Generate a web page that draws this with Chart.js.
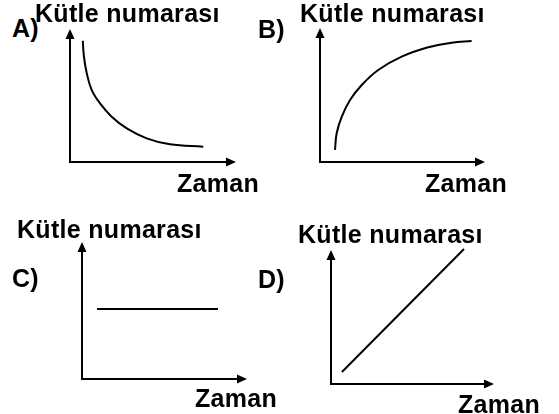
<!DOCTYPE html>
<html>
<head>
<meta charset="utf-8">
<script src="https://cdn.jsdelivr.net/npm/chart.js@4.4.1/dist/chart.umd.min.js"></script>
<style>
  body { margin: 0; background: #fff; }
  #wrap { position: relative; width: 559px; height: 414px; overflow: hidden; }
  canvas { position: absolute; }
  .lbl { position: absolute; font-family: "Liberation Sans", Arial, sans-serif; font-weight: bold;
         font-size: 25px; line-height: 25px; letter-spacing: 0.3px; color: #000; white-space: nowrap; }
</style>
</head>
<body>
<div id="wrap">
  <canvas id="chartA" width="186" height="153" style="left:60px;top:19px"></canvas>
  <canvas id="chartB" width="185" height="154" style="left:310px;top:18px"></canvas>
  <canvas id="chartC" width="185" height="157" style="left:72px;top:232px"></canvas>
  <canvas id="chartD" width="183" height="154" style="left:321px;top:240px"></canvas>

  <div class="lbl" style="left:12px;top:16px">A)</div>
  <div class="lbl" style="left:35px;top:1px">Kütle numarası</div>
  <div class="lbl" style="left:177px;top:171px">Zaman</div>

  <div class="lbl" style="left:258px;top:17px">B)</div>
  <div class="lbl" style="left:300px;top:1px">Kütle numarası</div>
  <div class="lbl" style="left:425px;top:171px">Zaman</div>

  <div class="lbl" style="left:17px;top:217px">Kütle numarası</div>
  <div class="lbl" style="left:12px;top:266px">C)</div>
  <div class="lbl" style="left:195px;top:386px">Zaman</div>

  <div class="lbl" style="left:298px;top:222px">Kütle numarası</div>
  <div class="lbl" style="left:258px;top:267px">D)</div>
  <div class="lbl" style="left:458px;top:392px">Zaman</div>
</div>
<script>
// values, axes run 0..10 in both directions
const A_X = [0.77, 0.84, 1.01, 1.31, 1.81, 2.51, 3.42, 4.62, 6.02, 8.03];
const A_Y = [9.12, 7.92, 6.67, 5.41, 4.41, 3.41, 2.53, 1.78, 1.33, 1.15];

const B_X = [0.91, 1.01, 1.32, 1.82, 2.53, 3.53, 4.95, 6.56, 7.98, 9.19];
const B_Y = [0.90, 2.14, 3.38, 4.63, 5.75, 6.87, 7.86, 8.56, 8.90, 9.03];

const C_X = [0.91, 8.24];
const C_Y = [5.11, 5.11];

const D_X = [0.67, 8.16];
const D_Y = [0.90, 10.07];

const AXIS_MIN = 0;
const AXIS_MAX = 10;

// draws the two axis lines with arrow heads on the chart area edges
const arrowAxes = {
    id: 'arrowAxes',
    afterDraw(chart) {
        const ctx = chart.ctx;
        const a = chart.chartArea;
        const len = 10;
        const half = 4.5;
        ctx.save();
        ctx.strokeStyle = '#000';
        ctx.fillStyle = '#000';
        ctx.lineWidth = 2;
        ctx.beginPath();
        ctx.moveTo(a.left, a.top + len - 1);
        ctx.lineTo(a.left, a.bottom);
        ctx.lineTo(a.right - len + 1, a.bottom);
        ctx.stroke();
        // y arrow
        ctx.beginPath();
        ctx.moveTo(a.left, a.top);
        ctx.lineTo(a.left - half, a.top + len);
        ctx.lineTo(a.left + half, a.top + len);
        ctx.closePath();
        ctx.fill();
        // x arrow
        ctx.beginPath();
        ctx.moveTo(a.right, a.bottom);
        ctx.lineTo(a.right - len, a.bottom - half);
        ctx.lineTo(a.right - len, a.bottom + half);
        ctx.closePath();
        ctx.fill();
        ctx.restore();
    }
};

function makePoints(xs, ys) {
    var pts = [];
    for (var i = 0; i < xs.length; i++) {
        pts.push({x: xs[i], y: ys[i]});
    }
    return pts;
}

function buildPanel(id, xs, ys) {
    const ctx = document.getElementById(id).getContext('2d');
    return new Chart(ctx, {
        type: 'line',
        data: {
            datasets: [{
                data: makePoints(xs, ys),
                borderColor: '#000',
                borderWidth: 2,
                pointRadius: 0,
                fill: false,
                tension: 0.4,
                clip: false
            }]
        },
        options: {
            responsive: false,
            animation: false,
            layout: { padding: 10 },
            plugins: {
                legend: { display: false },
                tooltip: { enabled: false }
            },
            scales: {
                x: { type: 'linear', min: AXIS_MIN, max: AXIS_MAX, display: false },
                y: { type: 'linear', min: AXIS_MIN, max: AXIS_MAX, display: false }
            }
        },
        plugins: [arrowAxes]
    });
}

buildPanel('chartA', A_X, A_Y);
buildPanel('chartB', B_X, B_Y);
buildPanel('chartC', C_X, C_Y);
buildPanel('chartD', D_X, D_Y);
</script>
</body>
</html>
